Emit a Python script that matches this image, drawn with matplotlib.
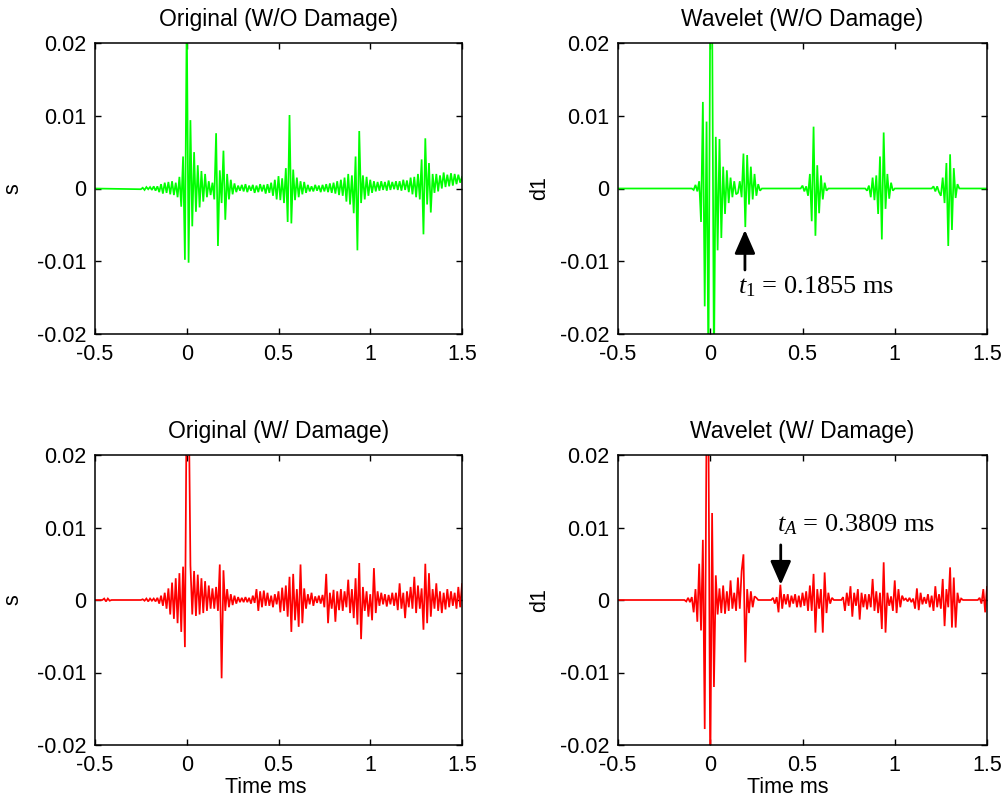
import numpy as np
import matplotlib
matplotlib.use("Agg")
import matplotlib.pyplot as plt

# ---------------- data (amplitude in units of 1e-3) ----------------
T0 = -0.25          # time of the first sample of each main series (ms)
DT = 0.01           # sample spacing (ms)

titles = ["Original (W/O Damage)", "Wavelet (W/O Damage)",
          "Original (W/ Damage)", "Wavelet (W/ Damage)"]
ylabels = ["s", "d1", "s", "d1"]
xticks = [-0.5, 0, 0.5, 1, 1.5]
xticklabels = ["-0.5", "0", "0.5", "1", "1.5"]
yticks = [-0.02, -0.01, 0, 0.01, 0.02]
yticklabels = ["-0.02", "-0.01", "0", "0.01", "0.02"]

# leading (pre-trigger) points
orig_nd_lead_t = [-0.50]
orig_nd_lead_v = [0.0]
wav_nd_lead_t = [-0.50]
wav_nd_lead_v = [0.0]
orig_d_lead_t = [-0.50, -0.46, -0.45, -0.44, -0.43, -0.42, -0.41, -0.26]
orig_d_lead_v = [0.0, 0.0, 0.2, -0.2, 0.2, -0.1, 0.0, 0.0]
wav_d_lead_t = [-0.50]
wav_d_lead_v = [0.0]

orig_nd = [
    -0.1, 0.1, -0.2, 0.2, -0.1, 0.2, -0.2, 0.3, -0.3, 0.3,
    -0.5, 0.6, -0.7, 0.8, -0.6, 0.9, -0.8, 1.0, -0.9, 0.8,
    -1.2, 1.6, -2.5, 4.4, -9.8, 24.0, -10.2, 9.4, -5.2, 5.0,
    -3.2, 3.2, -2.6, 2.4, -1.8, 2.0, -1.2, 1.0, -0.9, 0.8,
    -1.5, 7.6, -7.9, 2.5, -2.0, 5.2, -4.3, 2.0, -1.5, 1.2,
    -0.8, 0.7, -0.5, 0.4, -0.3, 0.5, -0.4, 0.6, -0.5, 0.4,
    -0.3, 0.5, -0.6, 0.4, -0.5, 0.6, -0.4, 0.5, -0.7, 0.6,
    -0.6, 0.8, -1.0, 1.2, -1.5, 1.7, -1.6, 1.4, -2.0, 2.8,
    -4.6, 10.1, -4.8, 2.6, -1.6, 1.5, -1.2, 1.0, -0.8, 0.9,
    -0.6, 0.5, -0.4, 0.3, -0.4, 0.5, -0.3, 0.4, -0.5, 0.5,
    -0.4, 0.6, -0.5, 0.7, -0.6, 0.8, -0.7, 1.0, -0.9, 1.2,
    -1.0, 1.5, -1.8, 2.0, -2.2, 1.8, -3.4, 4.4, -8.5, 7.9,
    -2.0, 1.8, -1.5, 1.6, -1.0, 1.2, -0.6, 1.0, -0.4, 0.9,
    -0.3, 1.0, -0.2, 0.9, -0.3, 1.1, -0.2, 0.9, -0.1, 1.0,
    -0.2, 1.0, -0.3, 1.2, -0.2, 1.1, -0.5, 1.5, -0.8, 1.6,
    -1.2, 2.0, -1.5, 4.0, -6.3, 6.9, -2.2, 3.5, -3.3, 2.0,
    -0.6, 2.0, -0.4, 1.8, 0.0, 2.2, 0.2, 1.9, 0.3, 2.1,
    0.4, 2.0, 0.6, 1.9, 0.8, 1.6,
]

wav_nd = [
    0, 0, 0, 0, 0, 0, 0, 0, 0, 0,
    0, 0, 0, 0, 0, 0, -0.2, 0.5, -0.4, 1.0,
    -4.6, 11.9, -16.2, 9.2, -25.0, 25.0, 25.0, -25.0, 7.1, -8.5,
    6.8, -6.8, 3.0, -3.5, 2.5, -2.0, 1.5, -1.2, 1.0, -0.8,
    -0.6, 1.0, -1.2, 4.8, -5.3, 4.6, -2.2, 3.0, -1.5, 2.0,
    -1.0, 0.6, -0.3, 0, 0, 0, 0, 0, 0, 0,
    0, 0, 0, 0, 0, 0, 0, 0, 0, 0,
    0, 0, 0, 0, 0, 0.4, -0.4, 0.3, -1.0, 2.0,
    -4.5, 8.5, -6.5, 3.2, -3.4, 1.8, -1.5, 0.8, -0.3, 0,
    0, 0, 0, 0, 0, 0, 0, 0, 0, 0,
    0, 0, 0, 0, 0, 0, 0, 0, 0, 0,
    -0.3, 0.4, -1.2, 1.5, -1.6, 1.8, -3.5, 4.4, -7.0, 7.7,
    -2.8, 2.0, -1.4, 0.8, -0.3, 0, 0, 0, 0, 0,
    0, 0, 0, 0, 0, 0, 0, 0, 0, 0,
    0, 0, 0, 0, 0, 0, 0.3, -0.4, 0.3, -0.5,
    -1.0, 1.5, -2.0, 3.5, -7.9, 4.7, -5.7, 2.8, -1.3, 0.6,
    0, 0, 0, 0, 0, 0, 0, 0, 0, 0,
    0, 0, 0, 0, 0, 0,
]

orig_d = [
    0.0, 0.1, -0.1, 0.2, -0.2, 0.2, -0.1, 0.2, -0.2, 0.3,
    -0.5, 0.6, -0.8, 1.0, -1.2, 1.6, -2.0, 2.4, -2.6, 3.0,
    -3.2, 3.7, -4.4, 4.6, -6.5, 30.0, 30.0, 4.8, -2.0, 4.0,
    -2.2, 3.5, -2.0, 3.0, -1.8, 2.6, -1.5, 2.0, -1.2, 1.6,
    -1.2, 1.8, -1.5, 4.9, -10.8, 4.1, -1.5, 1.5, -1.0, 0.8,
    -0.7, 0.6, -0.5, 0.4, -0.3, 0.3, -0.3, 0.4, -0.3, 0.3,
    -0.5, 0.6, -0.4, 1.5, -1.5, 1.2, -1.0, 1.3, -0.8, 1.0,
    -0.8, 0.6, -1.0, 0.8, -0.6, 1.2, -1.7, 1.7, -1.5, 2.0,
    -2.3, 3.2, -4.4, 3.6, -2.8, 1.5, -3.7, 4.9, -3.2, 1.6,
    -1.2, 0.8, -0.6, 1.0, -0.8, 0.5, -0.4, 0.6, -0.5, 0.7,
    -1.0, 3.6, -3.2, 1.0, -1.2, 1.4, -3.0, 1.2, -1.4, 1.5,
    -1.5, 1.2, -1.0, 2.8, -1.8, 1.5, -2.5, 3.0, -3.4, 5.1,
    -5.4, 1.8, -1.5, 1.2, -2.3, 0.8, -2.8, 4.4, -1.8, 1.2,
    -0.8, 1.0, -0.6, 0.8, -0.9, 0.7, -0.6, 1.0, -0.8, 1.0,
    -1.4, 2.3, -1.2, 1.0, -2.5, 1.2, -1.0, 1.8, -1.2, 3.2,
    -1.8, 2.0, -1.2, 1.6, -4.1, 5.0, -3.2, 3.7, -2.3, 1.5,
    -1.2, 2.3, -1.5, 1.2, -1.8, 1.0, -1.3, 1.5, -1.0, 1.2,
    -0.8, 1.0, -1.2, 1.8, -1.0, 2.2,
]

wav_d = [
    0, 0, 0, 0, 0, 0, 0, 0, 0, 0,
    0, 0, -0.2, 0.3, -0.3, 0.4, -1.7, 1.5, -3.0, 5.0,
    -4.2, 8.3, -17.8, 25.0, 25.0, -25.0, 12.0, -12.0, 3.4, -2.0,
    1.6, -1.8, 2.0, -1.9, 1.2, -1.5, 2.7, -1.2, 1.0, -1.5,
    3.1, -1.2, 4.0, 6.3, -8.6, 1.5, -1.8, 1.2, -1.0, 0.5,
    0.3, 0, 0, 0, 0, 0, 0, 0, 0, 0.3,
    -0.5, 0.4, -1.7, 2.1, -1.2, 0.8, -0.6, 0.8, -1.0, 0.6,
    -0.5, 0.8, -1.0, 0.6, -1.0, 1.0, -0.8, 1.2, -1.5, 2.0,
    -1.5, 3.6, -4.5, 1.5, -1.2, 1.5, -4.5, 3.8, -1.8, 1.0,
    -0.5, 0.3, 0, 0, 0, 0, 0, 0.4, -1.5, 1.0,
    -0.8, 1.9, -2.3, 1.0, -0.8, 1.5, -2.7, 1.0, -1.0, 0.8,
    -1.3, 0.8, -1.0, 2.9, -1.5, 1.2, -1.8, 1.0, -4.0, 5.2,
    -4.5, 1.0, -0.8, 0.5, -1.5, 2.7, -1.8, 1.5, -1.0, 0.6,
    0, 0.2, -0.2, 0.3, -0.3, 0.2, -1.2, 1.6, -1.4, 1.0,
    -0.6, 0.4, -0.5, 0.8, -1.0, 0.6, -1.5, 1.9, -1.0, 0.8,
    -1.2, 2.9, -3.6, 1.5, -1.0, 4.5, -3.8, 3.1, -3.8, 1.0,
    -0.4, 0.2, 0, 0, 0, 0, 0, 0, 0, 0,
    0, 0.3, -0.5, 1.5, -1.7, 1.8,
]

series = [
    (orig_nd_lead_t, orig_nd_lead_v, orig_nd, "#00ff00"),
    (wav_nd_lead_t, wav_nd_lead_v, wav_nd, "#00ff00"),
    (orig_d_lead_t, orig_d_lead_v, orig_d, "#ff0000"),
    (wav_d_lead_t, wav_d_lead_v, wav_d, "#ff0000"),
]

# ---------------- figure ----------------
plt.rcParams["font.family"] = ["Liberation Sans", "DejaVu Sans"]
plt.rcParams["mathtext.fontset"] = "custom"
plt.rcParams["mathtext.rm"] = "Liberation Serif"
plt.rcParams["mathtext.it"] = "Liberation Serif:italic"

W, H = 1007, 801
fig = plt.figure(figsize=(W / 100, H / 100), dpi=100)

boxes = [
    (95, 43, 367, 291),
    (618, 43, 369, 291),
    (95, 455, 367, 290),
    (618, 455, 369, 290),
]

FS = 15.5
TFS = 16.5
axes = []
for i, (x0, y0, w, h) in enumerate(boxes):
    ax = fig.add_axes([x0 / W, 1 - (y0 + h) / H, w / W, h / H])
    lt, lv, vals, col = series[i]
    t_main = T0 + DT * np.arange(len(vals))
    t = np.concatenate([np.array(lt), t_main])
    v = np.concatenate([np.array(lv), np.array(vals)]) * 1e-3
    ax.plot(t, v, color=col, lw=1.25, solid_joinstyle="miter")
    ax.set_xlim(-0.5, 1.5)
    ax.set_ylim(-0.02, 0.02)
    ax.set_xticks(xticks)
    ax.set_xticklabels(xticklabels)
    ax.set_yticks(yticks)
    ax.set_yticklabels(yticklabels)
    ax.tick_params(direction="in", top=True, right=True, length=4,
                   width=1.0, labelsize=FS)
    ax.tick_params(axis="x", pad=7)
    ax.tick_params(axis="y", pad=6)
    for s in ax.spines.values():
        s.set_linewidth(1.1)
    ax.set_title(titles[i], fontsize=TFS, pad=12)
    ax.set_ylabel(ylabels[i], fontsize=FS)
    ax.yaxis.set_label_coords(-0.195 if i % 2 == 0 else -0.183, 0.5)
    axes.append(ax)

for ax, xc in ((axes[2], 0.466), (axes[3], 0.461)):
    ax.set_xlabel("Time ms", fontsize=FS)
    ax.xaxis.set_label_coords(xc, -0.11)

# annotations
arrow = dict(arrowstyle="-|>,head_length=0.8,head_width=0.35",
             mutation_scale=18, lw=2.0, color="k", shrinkA=0, shrinkB=0)
axes[1].annotate("", xy=(0.188, -0.0057), xytext=(0.188, -0.0112),
                 arrowprops=arrow)
axes[1].text(0.150, -0.0144, r"$t_{\mathit{1}}$ = 0.1855 ms",
             family="Liberation Serif", fontsize=19, va="baseline")
axes[3].annotate("", xy=(0.382, 0.0021), xytext=(0.382, 0.0076),
                 arrowprops=arrow)
axes[3].text(0.362, 0.0094, r"$t_{A}$ = 0.3809 ms",
             family="Liberation Serif", fontsize=19, va="baseline")

fig.savefig("out.png", dpi=100)
